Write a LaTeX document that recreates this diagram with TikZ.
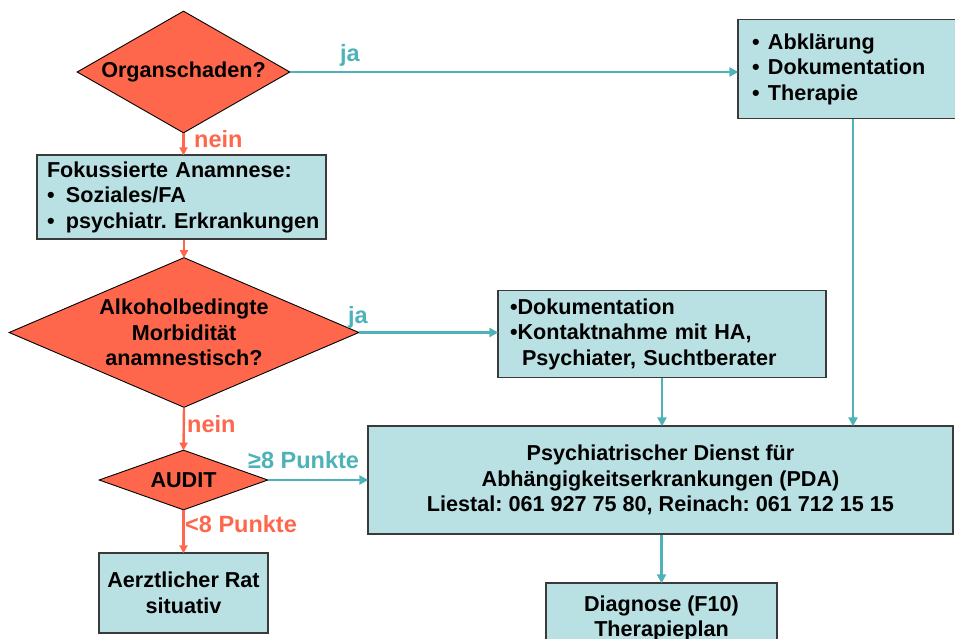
\documentclass[tikz,border=0pt]{standalone}
\usepackage{fontspec}
\setmainfont{Liberation Sans}
\frenchspacing
\usetikzlibrary{shapes.geometric,arrows.meta}
\definecolor{dia}{HTML}{FF674D}
\definecolor{boxfill}{HTML}{B9E0E3}
\definecolor{teal1}{HTML}{4DB3B8}
\definecolor{salm}{HTML}{FF674D}
\definecolor{border}{HTML}{3A3A3A}
\tikzset{
  txt/.style={font=\fontsize{21.6}{25.5}\selectfont\bfseries\frenchspacing},
  lbl/.style={font=\fontsize{23.5}{27}\selectfont\bfseries},
  decision/.style={txt, diamond, shape aspect=1.7, draw=black, line width=0.9pt, fill=dia, inner sep=0pt, align=center},
  infobox/.style={txt, rectangle, draw=border, line width=1.4pt, fill=boxfill, inner sep=0pt},
  tealarrow/.style={draw=teal1, line width=2.8pt, -{Triangle[length=9pt,width=9pt]}, shorten >=-1pt},
  salmarrow/.style={draw=salm, line width=2.4pt, -{Triangle[length=8pt,width=8pt]}, shorten >=-1pt},
  teallabel/.style={lbl, text=teal1, anchor=base west, inner sep=0pt},
  salmlabel/.style={lbl, text=salm, anchor=base west, inner sep=0pt}
}
\begin{document}
\begin{tikzpicture}[x=1pt,y=-1pt]
\useasboundingbox (0,0) rectangle (955,639);
\clip (0,0) rectangle (955,639);
\fill[white] (0,0) rectangle (955,639);

% decisions
\node[decision, minimum width=213pt, minimum height=122pt] (d1) at (183.5,72) {Organschaden?};
\node[decision, shape aspect=2.33, minimum width=350pt, minimum height=150pt] (d2) at (184,332.5) {Alkoholbedingte\\Morbidität\\anamnestisch?};
\node[decision, shape aspect=2.8, minimum width=169pt, minimum height=60pt] (audit) at (183.5,480) {AUDIT};

% boxes
\node[infobox, minimum width=289pt, minimum height=84pt, text width=281pt, align=left] (fok) at (181.5,197)
  {\hspace*{6pt}Fokussierte Anamnese:\\\hspace*{6pt}\makebox[19pt][l]{•}Soziales/FA\\\hspace*{6pt}\makebox[19pt][l]{•}psychiatr. Erkrankungen};
\node[infobox, minimum width=218pt, minimum height=99pt, text width=190pt, align=left] (abk) at (847,69)
  {\makebox[16pt][l]{•}Abklärung\\\makebox[16pt][l]{•}Dokumentation\\\makebox[16pt][l]{•}Therapie};
\node[infobox, minimum width=328pt, minimum height=87pt, text width=304pt, align=left] (box2) at (662,334)
  {•Dokumentation\\•Kontaktnahme mit HA,\\\hspace*{12pt}Psychiater, Suchtberater};
\node[infobox, minimum width=585pt, minimum height=108pt, align=center] (pda) at (660.5,480)
  {Psychiatrischer Dienst für\\Abhängigkeitserkrankungen (PDA)\\Liestal: 061 927 75 80, Reinach: 061 712 15 15};
\node[infobox, minimum width=169pt, minimum height=80pt, align=center] (rat) at (183.5,593)
  {Aerztlicher Rat\\situativ};
\node[infobox, minimum width=231pt, minimum height=66pt, align=center, text depth=0pt] (diag) at (661.5,616)
  {Diagnose (F10)\\Therapieplan};

% connectors
\draw[tealarrow] (d1.east) -- (abk.west |- d1.east);
\draw[salmarrow] (d1.south) -- (fok.north -| d1.south);
\draw[salmarrow] (fok.south -| d2.north) -- (d2.north);
\draw[tealarrow] (d2.east) -- (box2.west |- d2.east);
\draw[tealarrow] (box2.south) -- (box2.south |- pda.north);
\draw[tealarrow] ([xshift=6pt]abk.south) -- ([xshift=6pt]abk.south |- pda.north);
\draw[salmarrow] (d2.south) -- (audit.north);
\draw[tealarrow] (audit.east) -- (pda.west |- audit.east);
\draw[salmarrow] (audit.south) -- (rat.north);
\draw[tealarrow] ([xshift=1pt]pda.south) -- ([xshift=1pt]pda.south |- diag.north);

% labels
\node[teallabel] (lja1) at (340,62) {ja};
\node[salmlabel] (lnein1) at (194,148) {nein};
\node[teallabel] (lja2) at (348,323) {ja};
\node[salmlabel] (lnein2) at (187,432) {nein};
\node[teallabel] (lge8) at (248,468) {≥8 Punkte};
\node[salmlabel] (llt8) at (185,532) {<8 Punkte};
\end{tikzpicture}
\end{document}
